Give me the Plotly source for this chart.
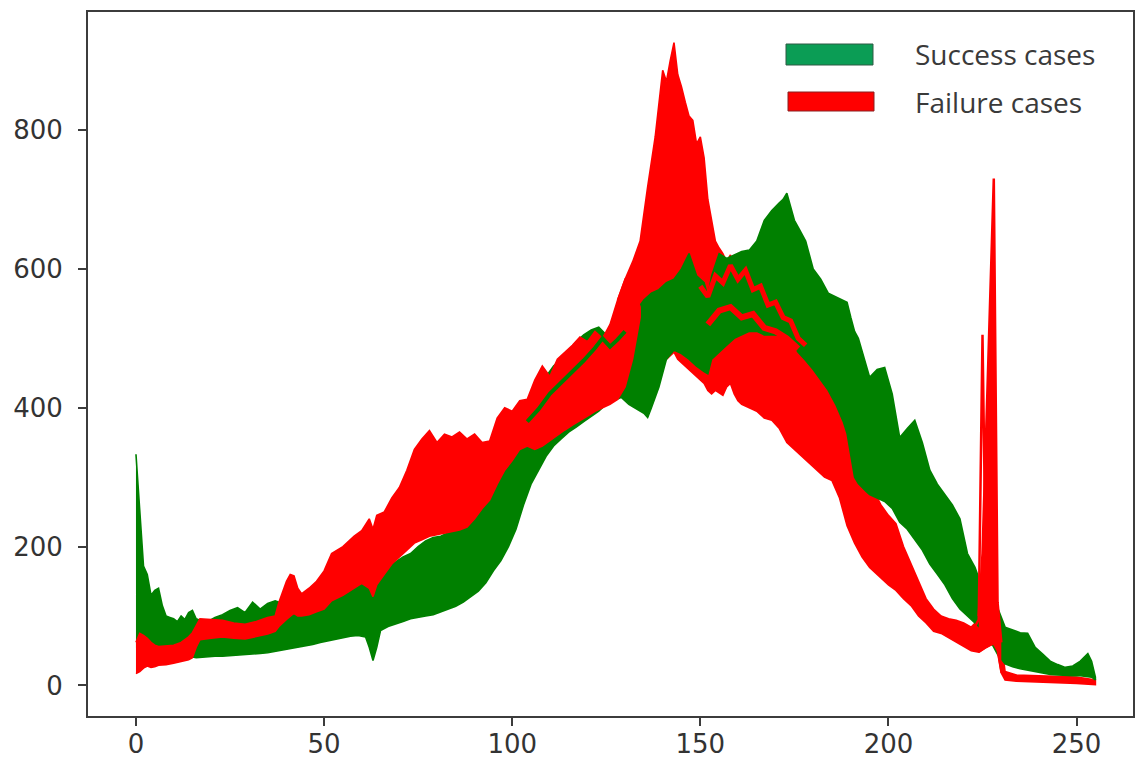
import plotly.graph_objects as go

# ---------------- data ----------------
# Success cases: envelope of the bundle of green histogram curves
green_x = [0, 1, 2, 3, 4, 5, 6, 7, 8, 9, 10, 11, 12, 13, 14, 15, 16, 17, 19, 21, 23, 25, 27, 29, 31, 33, 35, 37, 39,
           41, 43, 45, 47, 49, 51, 53, 55, 57, 59, 61, 62, 63, 64, 65, 67, 69, 71, 73, 75, 77, 79, 81, 83, 85, 87,
           89, 91, 93, 95, 97, 99, 101, 103, 105, 107, 109, 111, 113, 115, 117, 119, 121, 123, 125, 127, 129, 131,
           133, 135, 136, 137, 139, 141, 143, 145, 147, 149, 151, 152, 153, 155, 157, 159, 161, 163, 165, 167, 169,
           171, 172, 173, 174, 175, 176, 178, 180, 182, 184, 186, 188, 189, 190, 191, 192, 194, 195, 197, 199, 201,
           203, 205, 207, 209, 211, 213, 215, 217, 219, 221, 223, 225, 227, 229, 231, 233, 235, 237, 239, 241, 243,
           245, 247, 249, 251, 253, 254, 255]
green_hi = [333, 250, 172, 160, 130, 137, 140, 115, 100, 98, 96, 92, 100, 95, 105, 108, 96, 94, 92, 98, 102, 108, 112,
            105, 120, 110, 118, 122, 118, 125, 115, 112, 120, 128, 135, 130, 140, 138, 142, 150, 155, 150, 155, 170,
            172, 178, 185, 190, 200, 208, 213, 215, 220, 225, 228, 240, 255, 275, 295, 315, 335, 360, 390, 415, 430,
            445, 460, 470, 480, 495, 505, 512, 516, 505, 520, 525, 526, 540, 555, 560, 565, 570, 580, 585, 600, 622,
            590, 580, 560, 590, 622, 615, 620, 625, 627, 640, 670, 684, 695, 700, 709, 690, 670, 660, 640, 600, 585,
            565, 560, 555, 552, 530, 510, 500, 460, 444, 455, 458, 420, 357, 370, 382, 350, 310, 290, 275, 260, 240,
            190, 170, 140, 125, 112, 84, 80, 76, 75, 55, 45, 35, 30, 26, 28, 35, 46, 35, 12]
green_lo = [55, 55, 50, 50, 48, 47, 46, 45, 45, 44, 44, 43, 43, 42, 42, 41, 40, 40, 41, 42, 42, 43, 43, 44, 45, 46, 47,
            48, 50, 52, 54, 57, 59, 62, 65, 67, 69, 71, 72, 70, 55, 36, 55, 79, 85, 88, 92, 96, 98, 100, 102, 106, 110,
            114, 120, 128, 136, 148, 165, 180, 200, 225, 260, 290, 310, 330, 345, 355, 365, 372, 380, 388, 395, 405,
            410, 415, 405, 398, 392, 386, 400, 430, 470, 483, 478, 470, 460, 452, 449, 470, 480, 490, 500, 505, 510,
            510, 505, 505, 505, 503, 501, 495, 488, 480, 468, 455, 440, 425, 405, 380, 363, 330, 300, 291, 280, 275,
            270, 265, 255, 235, 225, 210, 195, 175, 160, 145, 125, 110, 100, 90, 80, 65, 45, 31, 27, 24, 21, 19, 18,
            16, 15, 14, 14, 14, 13, 12, 8]

# Failure cases: envelope of the red curves, left part (drawn above green)
red_left_x = [0, 1, 2, 3, 4, 5, 6, 8, 10, 12, 14, 15, 16, 17, 20, 23, 26, 29, 32, 35, 37, 38, 40, 41, 42, 43, 44, 46,
              48, 50, 52, 55, 58, 60, 62, 63, 64, 66, 68, 70, 72, 74, 76, 78, 80, 82, 84, 86, 88, 90, 92, 94, 96, 98,
              100, 102, 104, 106, 108, 110, 112, 114, 116, 118, 120, 122, 124, 126, 128, 130, 132, 134]
red_left_hi = [62, 75, 72, 68, 62, 58, 56, 57, 58, 62, 70, 76, 85, 96, 95, 94, 90, 88, 92, 98, 100, 120, 150, 160, 158,
               140, 132, 140, 150, 165, 190, 200, 215, 223, 240, 225, 245, 250, 270, 285, 310, 340, 355, 367, 350, 362,
               358, 365, 355, 362, 350, 352, 385, 400, 395, 410, 412, 440, 460, 445, 470, 480, 490, 502, 495, 510, 500,
               520, 555, 585, 575, 545]
red_left_lo = [17, 20, 25, 28, 26, 27, 29, 30, 32, 34, 37, 40, 55, 66, 68, 70, 68, 67, 70, 74, 78, 85, 95, 100, 104,
               100, 100, 102, 106, 110, 122, 130, 140, 147, 140, 128, 145, 160, 175, 185, 195, 205, 210, 215, 218, 220,
               222, 224, 228, 240, 255, 267, 290, 310, 324, 340, 345, 340, 345, 352, 360, 368, 375, 382, 388, 395, 400,
               405, 412, 430, 470, 530]

# Failure cases: envelope of the red curves, right part (drawn below green)
red_right_x = [128, 130, 132, 134, 136, 138, 140, 141, 142, 143, 144, 145, 146, 147, 148, 149, 150, 151, 152, 153, 154,
               155, 156, 157, 158, 159, 160, 161, 163, 165, 167, 169, 171, 173, 175, 177, 179, 181, 183, 185, 187,
               189, 191, 193, 195, 196, 198, 200, 202, 204, 206, 208, 210, 212, 214, 216, 218, 220, 222, 224, 226,
               228, 229, 230, 231, 234, 238, 242, 246, 250, 255]
red_right_hi = [555, 585, 610, 640, 718, 790, 886, 870, 900, 926, 880, 862, 840, 820, 814, 780, 790, 760, 700, 670, 640,
                630, 622, 610, 620, 600, 617, 600, 590, 575, 569, 560, 555, 545, 520, 500, 480, 470, 460, 440, 420,
                363, 340, 320, 300, 281, 260, 245, 233, 200, 175, 150, 125, 110, 100, 96, 94, 90, 84, 95, 100, 110,
                95, 62, 20, 15, 14, 13, 12, 12, 8]
red_right_lo = [415, 420, 440, 450, 455, 460, 470, 470, 475, 480, 470, 465, 460, 455, 450, 445, 440, 435, 425, 420, 425,
                421, 418, 430, 435, 420, 410, 405, 400, 395, 385, 382, 370, 350, 339, 330, 320, 310, 300, 295, 270,
                230, 205, 185, 170, 165, 155, 145, 137, 125, 115, 100, 90, 78, 75, 68, 62, 56, 50, 48, 55, 60, 50, 18,
                8, 6, 5, 4, 4, 3, 1]

# individual curves that show on top of the other colour
green_accent_x = [104, 107, 110, 113, 116, 119, 122, 124, 126, 128, 130]
green_accent_y = [380, 398, 420, 436, 452, 468, 486, 500, 488, 498, 510]
red_accent1_x = [150, 152, 154, 156, 158, 160, 162, 164, 166, 168, 170, 172, 174, 176, 178]
red_accent1_y = [575, 560, 590, 580, 605, 585, 598, 570, 575, 548, 552, 530, 525, 500, 490]
red_accent2_x = [152, 155, 158, 161, 164, 167, 170, 173, 176]
red_accent2_y = [520, 540, 545, 530, 535, 515, 510, 500, 485]

# the two isolated spikes of the failure cases near 225-228
spike_base_x = [224, 225, 226, 227, 228, 229, 230]
spike_base_y = [48, 52, 55, 58, 60, 50, 18]
spike_b_x = [224, 225, 226, 227, 228, 229, 230]
spike_b_y = [100, 190, 370, 550, 730, 120, 62]
spike_a_x = [223, 224, 225, 226, 227]
spike_a_y = [85, 95, 505, 110, 95]

legend_labels = ["Success cases", "Failure cases"]
x_ticks = [0, 50, 100, 150, 200, 250]
y_ticks = [0, 200, 400, 600, 800]

GREEN = "#008000"
RED = "#ff0000"


def band(xs, hi, lo, color):
    return go.Scatter(
        x=list(xs) + list(xs)[::-1],
        y=list(hi) + list(lo)[::-1],
        mode="lines", fill="toself", fillcolor=color,
        line=dict(color=color, width=1.6),
        hoverinfo="skip", showlegend=False,
    )


def curve(xs, ys, color, width):
    return go.Scatter(x=xs, y=ys, mode="lines", line=dict(color=color, width=width),
                      hoverinfo="skip", showlegend=False)


fig = go.Figure()
fig.add_trace(band(red_right_x, red_right_hi, red_right_lo, RED))
fig.add_trace(band(green_x, green_hi, green_lo, GREEN))
fig.add_trace(band(red_left_x, red_left_hi, red_left_lo, RED))
fig.add_trace(curve(green_accent_x, green_accent_y, GREEN, 4))
fig.add_trace(curve(red_accent1_x, red_accent1_y, RED, 5))
fig.add_trace(curve(red_accent2_x, red_accent2_y, RED, 6))
fig.add_trace(curve(spike_base_x, spike_base_y, RED, 2))
fig.add_trace(go.Scatter(x=spike_b_x, y=spike_b_y, mode="lines", fill="tonexty",
                         fillcolor=RED, line=dict(color=RED, width=2.5),
                         hoverinfo="skip", showlegend=False))
fig.add_trace(curve(spike_a_x, spike_a_y, RED, 2.5))

# The page body has an 8 px margin, so the figure is drawn 8 px smaller and
# the plot-area edges are given in page pixels minus that offset.
OFF = 8
FIG_W, FIG_H = 1144 - OFF, 761 - OFF
L, R, T, B = 88 - OFF, 1133 - OFF, 12 - OFF, 716 - OFF


def px2paper(px, py):
    # px, py in page pixels
    return (px - OFF - L) / (R - L), (B - (py - OFF)) / (B - T)


patches = [((786, 44, 873, 65), "#0b9d55", "#2f5a45"), ((788, 92, 874, 111), "#ff0000", "#8a2020")]
for (x0, y0, x1, y1), fc, ec in patches:
    a0, b1 = px2paper(x0, y0)
    a1, b0 = px2paper(x1, y1)
    fig.add_shape(type="rect", xref="paper", yref="paper", x0=a0, x1=a1, y0=b0, y1=b1,
                  fillcolor=fc, line=dict(color=ec, width=1))
for label, cy in zip(legend_labels, [54, 102]):
    ax, ay = px2paper(913, cy)
    fig.add_annotation(xref="paper", yref="paper", x=ax, y=ay, text=label, showarrow=False,
                       xanchor="left", yanchor="middle",
                       font=dict(family="Open Sans", size=28, color="#3a3a3a"))

axis_common = dict(showgrid=False, zeroline=False, showline=True, mirror=True,
                   linecolor="#3c3c3c", linewidth=2, ticks="outside", ticklen=8,
                   tickwidth=2, tickcolor="#3c3c3c", automargin=False,
                   tickfont=dict(family="DejaVu Sans", size=26, color="#333333"))
fig.update_xaxes(range=[-12.75, 265], tickvals=x_ticks, ticklabelstandoff=-4, **axis_common)
fig.update_yaxes(range=[-44, 970], tickvals=y_ticks, ticklabelstandoff=10, **axis_common)

fig.update_layout(width=FIG_W, height=FIG_H, plot_bgcolor="white", paper_bgcolor="white",
                  margin=dict(l=L, r=FIG_W - R, t=T, b=FIG_H - B), showlegend=False)

fig.write_html("out.html")
